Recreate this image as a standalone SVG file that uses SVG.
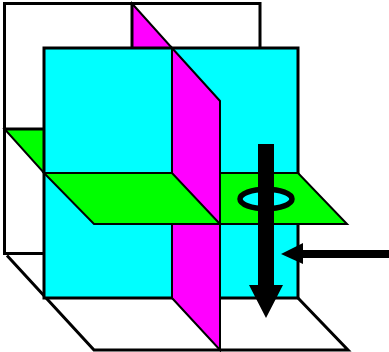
<svg xmlns="http://www.w3.org/2000/svg" width="389" height="352" viewBox="0 0 389 352">
<style>
.thick{stroke:#000;stroke-width:3;stroke-linejoin:miter}
.thin{stroke:#000;stroke-width:2;stroke-linejoin:miter}
.open{fill:none}
.cyan{fill:#0ff}
.green{fill:#0f0}
.magenta{fill:#f0f}
.solid{fill:#000;stroke:none}
</style>
<rect width="389" height="352" fill="#fff"/>
<g id="back-plane"><path class="thick open" d="M4.5 129V3.5H260V48M4.5 129V253.5H44"/></g>
<g id="bottom-plane"><path class="thick open" d="M7 255.5L94 350H348L298 298"/></g>
<g id="back-green"><path class="thin green" d="M4.5 129H44V173Z"/><path class="thick open" d="M4.5 129H44"/></g>
<g id="back-magenta"><path class="thin magenta" d="M132 3.5L172 48H132Z"/><path class="thick open" d="M132 3.5V48"/></g>
<g id="front-plane"><rect class="thick cyan" x="44" y="48" width="254" height="250"/></g>
<g id="magenta-plane"><path class="thin magenta" d="M172 48L220 101V350L172 298Z"/></g>
<g id="green-plane"><path class="thin green" d="M44 173H172L220 224H94Z"/><path class="thin green" d="M220 173H298L347 224H220Z"/></g>
<g id="ring"><ellipse class="cyan" cx="266" cy="199" rx="26" ry="9.7" stroke="#000" stroke-width="5.5"/></g>
<g id="connectors">
<path class="solid" d="M258 144H274V285H283L266 318L249 285H258Z"/>
<path class="solid" d="M389 250V258H303V264L281 254L303 243V250Z"/>
</g>
</svg>
